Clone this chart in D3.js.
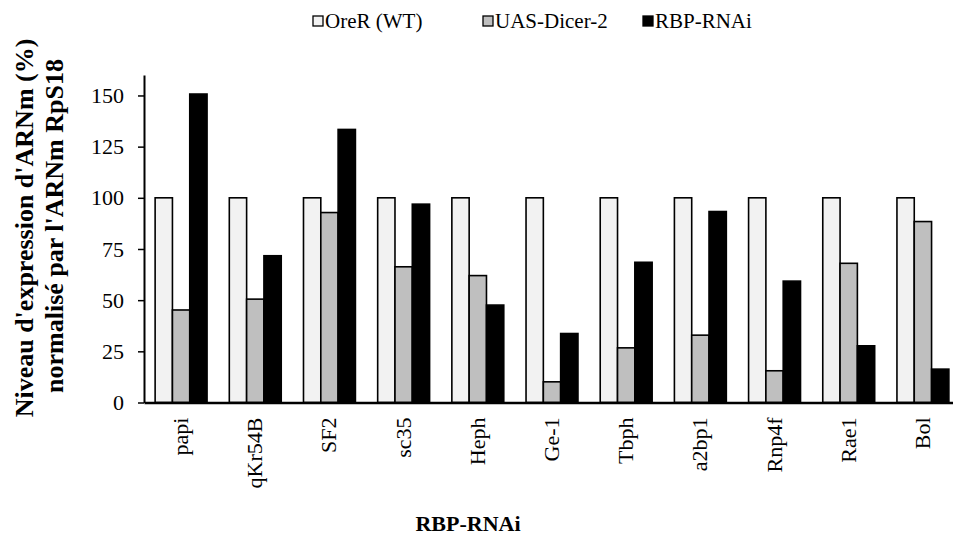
<!DOCTYPE html>
<html>
<head>
<meta charset="utf-8">
<script src="https://cdn.jsdelivr.net/npm/d3@7"></script>
<style>
  body { margin: 0; background: #fff; }
  svg text { font-family: 'Liberation Serif', serif; }
</style>
</head>
<body>
<svg width="953" height="542"></svg>
<script>
let svg = d3.select('svg');
let serif = "'Liberation Serif', serif";

// data
let categories = ['papi', 'qKr54B', 'SF2', 'sc35', 'Heph', 'Ge-1', 'Tbph', 'a2bp1', 'Rnp4f', 'Rae1', 'Bol'];
let seriesNames = ['OreR (WT)', 'UAS-Dicer-2', 'RBP-RNAi'];
let oreR = [100, 100, 100, 100, 100, 100, 100, 100, 100, 100, 100];
let dicer = [45.2, 50.5, 92.8, 66.3, 62, 10.1, 26.7, 32.9, 15.5, 68, 88.4];
let rnai = [150.7, 71.7, 133.4, 96.9, 47.6, 33.7, 68.5, 93.3, 59.3, 27.7, 16.3];
let yTicks = [0, 25, 50, 75, 100, 125, 150];
let colors = ['#f2f2f2', '#bfbfbf', '#000000'];

let series = [oreR, dicer, rnai];

let scaleX = d3.scaleBand().domain(categories).range([144, 960]).paddingInner(0.3).paddingOuter(0.15);
let scaleSub = d3.scaleBand().domain([0, 1, 2]).range([0, scaleX.bandwidth()]);
let scaleY = d3.scaleLinear().domain([0, 160]).range([402.5, 75]);

// bars
series.forEach(function(values, s) {
    svg.selectAll('.bar' + s)
        .data(values)
        .enter()
        .append('rect')
        .attr('x', (d, i) => scaleX(categories[i]) + scaleSub(s))
        .attr('y', d => scaleY(d))
        .attr('width', scaleSub.bandwidth())
        .attr('height', d => scaleY(0) - scaleY(d))
        .attr('fill', colors[s])
        .attr('stroke', '#000')
        .attr('stroke-width', 1.6);
});

// y axis
let yAxis = svg.append('g')
    .attr('transform', 'translate(144,0)')
    .call(d3.axisLeft(scaleY).tickValues(yTicks).tickSize(6).tickPadding(14).tickSizeOuter(0));
yAxis.attr('font-family', serif);
yAxis.select('.domain').attr('stroke-width', 2);
yAxis.selectAll('.tick line').attr('stroke-width', 1.5);
yAxis.selectAll('text').attr('font-size', 22).attr('font-family', serif).attr('fill', '#000');

// x axis
let xAxis = svg.append('g')
    .attr('transform', 'translate(0,402.5)')
    .call(d3.axisBottom(scaleX).tickSize(0).tickSizeOuter(0).tickPadding(0));
xAxis.attr('font-family', serif);
xAxis.select('.domain').attr('stroke-width', 2.5);
xAxis.selectAll('text')
    .attr('font-size', 22)
    .attr('font-family', serif)
    .attr('fill', '#000')
    .attr('text-anchor', 'end')
    .attr('dy', 0)
    .attr('transform', 'translate(7,15) rotate(-90)');

// axis titles
svg.append('text')
    .attr('transform', 'translate(33,228) rotate(-90)')
    .attr('text-anchor', 'middle')
    .attr('font-family', serif)
    .attr('font-size', 26)
    .attr('font-weight', 'bold')
    .text("Niveau d'expression d'ARNm (%)");
svg.append('text')
    .attr('transform', 'translate(63,226) rotate(-90)')
    .attr('text-anchor', 'middle')
    .attr('font-family', serif)
    .attr('font-size', 26)
    .attr('font-weight', 'bold')
    .text("normalisé par l'ARNm RpS18");
svg.append('text')
    .attr('x', 468)
    .attr('y', 531)
    .attr('text-anchor', 'middle')
    .attr('font-family', serif)
    .attr('font-size', 22)
    .attr('font-weight', 'bold')
    .text('RBP-RNAi');

// legend
let legendX = [313, 483, 643];
seriesNames.forEach(function(name, s) {
    let g = svg.append('g').attr('transform', 'translate(' + legendX[s] + ',16)');
    g.append('rect').attr('width', 10).attr('height', 10)
        .attr('fill', colors[s]).attr('stroke', '#000').attr('stroke-width', 1.3);
    g.append('text').attr('x', 12).attr('y', 12)
        .attr('font-family', serif).attr('font-size', 21).text(name);
});
</script>
</body>
</html>
